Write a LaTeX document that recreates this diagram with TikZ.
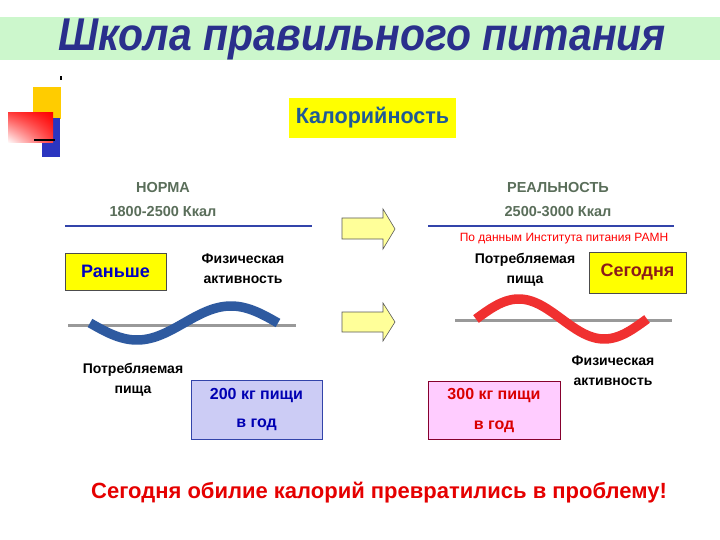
\documentclass[tikz,border=0pt]{standalone}
\usepackage{fontspec}
\setmainfont{Liberation Sans}
\usetikzlibrary{shadings}
\definecolor{titleband}{HTML}{CCF7CC}
\definecolor{titleblue}{HTML}{2A2F8C}
\definecolor{calblue}{HTML}{1F5A96}
\definecolor{normgreen}{HTML}{5A6E5A}
\definecolor{lineblue}{HTML}{3344AA}
\definecolor{waveblue}{HTML}{2E5AA0}
\definecolor{wavered}{HTML}{F03030}
\definecolor{boxyellow}{HTML}{FFFF00}
\definecolor{lav}{HTML}{CCCCF5}
\definecolor{pinkbox}{HTML}{FFCCFF}
\definecolor{darkred}{HTML}{8B1A1A}
\definecolor{arrowyel}{HTML}{FFFF99}
\definecolor{decoyel}{HTML}{FFCC00}
\definecolor{decoblue}{HTML}{2B35C0}
\tikzset{
  lbl/.style={font=\bfseries\fontsize{14}{16}\selectfont, align=center, inner sep=0pt},
  ybox/.style={draw=black!70, fill=boxyellow, line width=0.8pt, font=\bfseries\fontsize{18}{20}\selectfont},
  head/.style={font=\bfseries\fontsize{14.5}{16}\selectfont, text=normgreen, inner sep=0pt},
  kg/.style={font=\bfseries\fontsize{16}{18}\selectfont, inner sep=0pt},
  blockarrow/.style={draw=black!65, fill=arrowyel, line width=0.6pt},
}
\begin{document}
\begin{tikzpicture}[x=1pt,y=-1pt]
\useasboundingbox (0,0) rectangle (720,540);
\fill[white] (0,0) rectangle (720,540);
% title band
\fill[titleband] (0,17) rectangle (720,60);
\node[font=\bfseries\itshape\fontsize{46}{50}\selectfont, text=titleblue, xscale=0.89] (title) at (362,39) {Школа правильного питания};
% decoration
\fill[black] (60,76) rectangle (62,80);
\fill[decoyel] (33,87) rectangle (61,119);
\fill[decoblue] (42,118) rectangle (60,157);
\shade[upper right=red, upper left=red!75, lower right=red!75, lower left=white] (8,113) rectangle (53,143);
\draw[black, line width=1.5pt] (34,140) -- (55,140);
% Kaloriynost
\node[fill=boxyellow, minimum width=171pt, minimum height=40pt, inner sep=0pt, text=calblue, font=\bfseries\fontsize{22}{24}\selectfont, xscale=0.98] (cal) at (372.5,118) {Калорийность};
% norma
\node[head] (norma) at (163,188) {НОРМА};
\node[head] (norma2) at (163,212) {1800-2500 Ккал};
\coordinate (nl1) at (65,226);
\coordinate (nl2) at (312,226);
\draw[lineblue, line width=1.8pt] (nl1) -- (nl2);
% realnost
\node[head] (real) at (558,188) {РЕАЛЬНОСТЬ};
\node[head] (real2) at (558,212) {2500-3000 Ккал};
\coordinate (rl1) at (428,226);
\coordinate (rl2) at (674,226);
\draw[lineblue, line width=1.8pt] (rl1) -- (rl2);
\node[text=red, font=\fontsize{12}{14}\selectfont, inner sep=0pt] (ramn) at (564,239) {По данным Института питания РАМН};
% arrows
\draw[blockarrow] (342,218) -- (383,218) -- (383,209) -- (395,229) -- (383,249) -- (383,239) -- (342,239) -- cycle;
\draw[blockarrow] (342,312) -- (383,312) -- (383,303) -- (395,322) -- (383,341) -- (383,332) -- (342,332) -- cycle;
% left side
\node[ybox, minimum width=101pt, minimum height=37pt, text=blue!75!black] (ran) at (115.5,271.5) {Раньше};
\node[lbl] (fiz1) at (243,269) {Физическая\\[4pt]активность};
\draw[gray!80, line width=3pt] (68,325) -- (296,325);
\draw[waveblue, line width=9.5pt] plot[domain=90:278, samples=80, smooth] (\x, {323+17*sin((\x-90)/188*360)});
\node[lbl] (pot1) at (133,380) {Потребляемая\\[4pt]пища};
\node[draw=lineblue, fill=lav, line width=1pt, minimum width=131pt, minimum height=59pt] (kg200) at (256.5,409.5) {};
\node[kg, text=blue!70!black] at (256.5,396) {200 кг пищи};
\node[kg, text=blue!70!black] at (256.5,425) {в год};
% right side
\node[lbl] (pot2) at (525,270) {Потребляемая\\[4pt]пища};
\node[ybox, minimum width=97pt, minimum height=41pt, text=darkred] (seg) at (637.5,272.5) {Сегодня};
\draw[gray!80, line width=3pt] (455,320) -- (672,320);
\draw[wavered, line width=9.5pt] plot[domain=476:647, samples=80, smooth] (\x, {319-20*sin((\x-476)/171*360)});
\node[lbl] (fiz2) at (613,371) {Физическая\\[4pt]активность};
\node[draw=purple!70!black, fill=pinkbox, line width=1pt, minimum width=132pt, minimum height=58pt] (kg300) at (494,410) {};
\node[kg, text=red!85!black] at (494,396) {300 кг пищи};
\node[kg, text=red!85!black] at (494,427) {в год};
% bottom
\node[text=red!90!black, font=\bfseries\fontsize{22}{24}\selectfont, inner sep=0pt] (bottom) at (379,493) {Сегодня обилие калорий превратились в проблему!};
\end{tikzpicture}
\end{document}
